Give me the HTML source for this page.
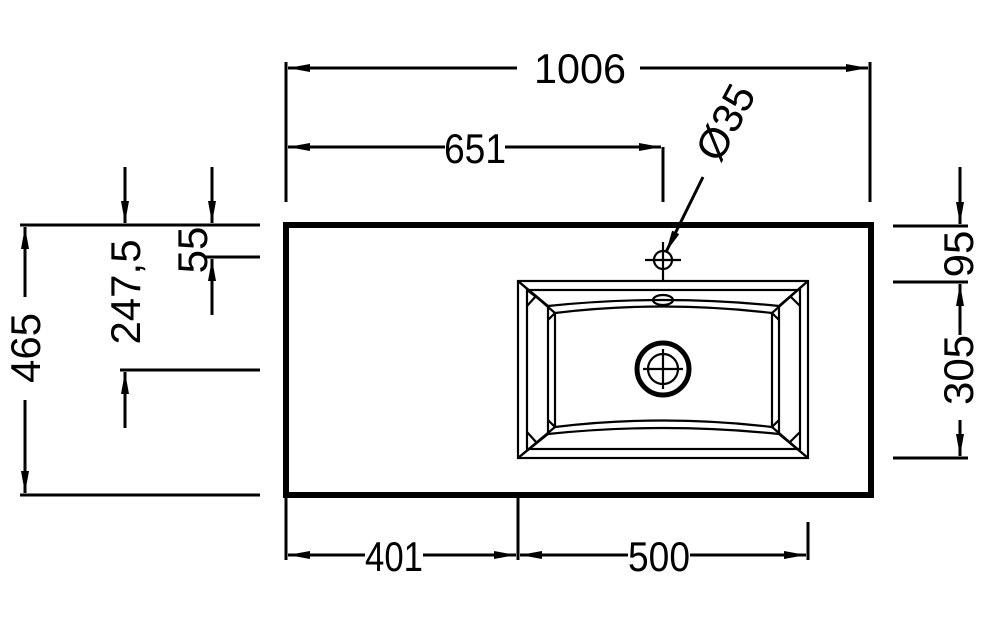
<!DOCTYPE html>
<html><head><meta charset="utf-8"><style>
html,body{margin:0;padding:0;background:#fff;}
svg{display:block;}
text{font-family:"Liberation Sans",sans-serif;font-size:42px;fill:#000;}
</style></head><body>
<svg width="1000" height="631" viewBox="0 0 1000 631" xmlns="http://www.w3.org/2000/svg">
<defs>
<marker id="a" viewBox="0 0 22 8" refX="22" refY="4" markerWidth="22" markerHeight="8" markerUnits="userSpaceOnUse" orient="auto-start-reverse"><path d="M0,0 L22,4 L0,8 Z" fill="#000"/></marker>
</defs>
<g stroke="#000" fill="none" stroke-width="3">
<rect x="286" y="225" width="585" height="270" stroke-width="6"/>
<line x1="286" y1="62" x2="286" y2="202"/>
<line x1="870" y1="62" x2="870" y2="202"/>
<line x1="288" y1="68" x2="517" y2="68" marker-start="url(#a)"/>
<line x1="640" y1="68" x2="868" y2="68" marker-end="url(#a)"/>
<line x1="663" y1="147" x2="663" y2="202"/>
<line x1="288" y1="147" x2="445" y2="147" marker-start="url(#a)"/>
<line x1="505" y1="147" x2="661" y2="147" marker-end="url(#a)"/>
<line x1="703" y1="177" x2="666" y2="252" marker-end="url(#a)"/>
<line x1="20" y1="225" x2="260" y2="225"/>
<line x1="20" y1="495" x2="260" y2="495"/>
<line x1="205" y1="257" x2="260" y2="257"/>
<line x1="120" y1="370" x2="260" y2="370"/>
<line x1="25" y1="297" x2="25" y2="227" marker-end="url(#a)"/>
<line x1="25" y1="400" x2="25" y2="493" marker-end="url(#a)"/>
<line x1="125" y1="167" x2="125" y2="223" marker-end="url(#a)"/>
<line x1="125" y1="428" x2="125" y2="372" marker-end="url(#a)"/>
<line x1="212" y1="167" x2="212" y2="223" marker-end="url(#a)"/>
<line x1="212" y1="315" x2="212" y2="259" marker-end="url(#a)"/>
<line x1="893" y1="226" x2="968" y2="226"/>
<line x1="893" y1="282" x2="968" y2="282"/>
<line x1="893" y1="458" x2="968" y2="458"/>
<line x1="960" y1="167" x2="960" y2="224" marker-end="url(#a)"/>
<line x1="960" y1="335" x2="960" y2="284" marker-end="url(#a)"/>
<line x1="960" y1="420" x2="960" y2="456" marker-end="url(#a)"/>
<line x1="286" y1="498" x2="286" y2="560"/>
<line x1="518" y1="498" x2="518" y2="560"/>
<line x1="808" y1="522" x2="808" y2="560"/>
<line x1="288" y1="555" x2="365" y2="555" marker-start="url(#a)"/>
<line x1="423" y1="555" x2="516" y2="555" marker-end="url(#a)"/>
<line x1="520" y1="555" x2="628" y2="555" marker-start="url(#a)"/>
<line x1="690" y1="555" x2="806" y2="555" marker-end="url(#a)"/>
<g stroke-width="2.2">
<rect x="518" y="281" width="290" height="177"/>
<rect x="527" y="290" width="273" height="159"/>
<line x1="548" y1="306" x2="548" y2="434"/>
<line x1="555" y1="313" x2="555" y2="427"/>
<line x1="779" y1="306" x2="779" y2="434"/>
<line x1="772" y1="313" x2="772" y2="427"/>
<path d="M548,306 Q663,294 779,306"/>
<path d="M555,313 Q663,300 772,313"/>
<path d="M548,434 Q663,422 779,434"/>
<path d="M555,427 Q663,414 772,427"/>
<path d="M518,281 L548,306 M518,281 L555,313 M527,290 L548,306"/>
<path d="M808,281 L779,306 M808,281 L772,313"/>
<path d="M518,458 L548,434 M518,458 L555,427"/>
<path d="M808,458 L779,434 M808,458 L772,427"/>
<path d="M536,296 L527,306 M555,313 L548,320 M790,296 L800,306 M772,313 L779,320 M536,442 L527,432 M555,427 L548,420 M790,442 L800,432 M772,427 L779,420"/>
<ellipse cx="663" cy="300" rx="10" ry="5"/>
<circle cx="663" cy="260" r="9"/>
<line x1="645" y1="260" x2="681" y2="260"/>
<line x1="663" y1="242" x2="663" y2="281"/>
<circle cx="663" cy="369" r="15"/>
<line x1="643" y1="369" x2="683" y2="369"/>
<line x1="663" y1="349" x2="663" y2="389"/>
</g>
<circle cx="663" cy="369" r="26" stroke-width="5"/>
</g>
<text x="580" y="83" text-anchor="middle" textLength="92" lengthAdjust="spacingAndGlyphs">1006</text>
<text x="475" y="163" text-anchor="middle" textLength="62" lengthAdjust="spacingAndGlyphs">651</text>
<text x="394" y="571" text-anchor="middle" textLength="58" lengthAdjust="spacingAndGlyphs">401</text>
<text x="659" y="571" text-anchor="middle" textLength="62" lengthAdjust="spacingAndGlyphs">500</text>
<text transform="translate(725,122) rotate(-62)" text-anchor="middle" dy="15">Ø35</text>
<text transform="translate(25,348) rotate(-90)" text-anchor="middle" dy="15">465</text>
<text transform="translate(125,292) rotate(-90)" text-anchor="middle" dy="15">247,5</text>
<text transform="translate(192,250) rotate(-90)" text-anchor="middle" dy="15">55</text>
<text transform="translate(958,254) rotate(-90)" text-anchor="middle" dy="15">95</text>
<text transform="translate(958,370) rotate(-90)" text-anchor="middle" dy="15">305</text>
</svg>
</body></html>
